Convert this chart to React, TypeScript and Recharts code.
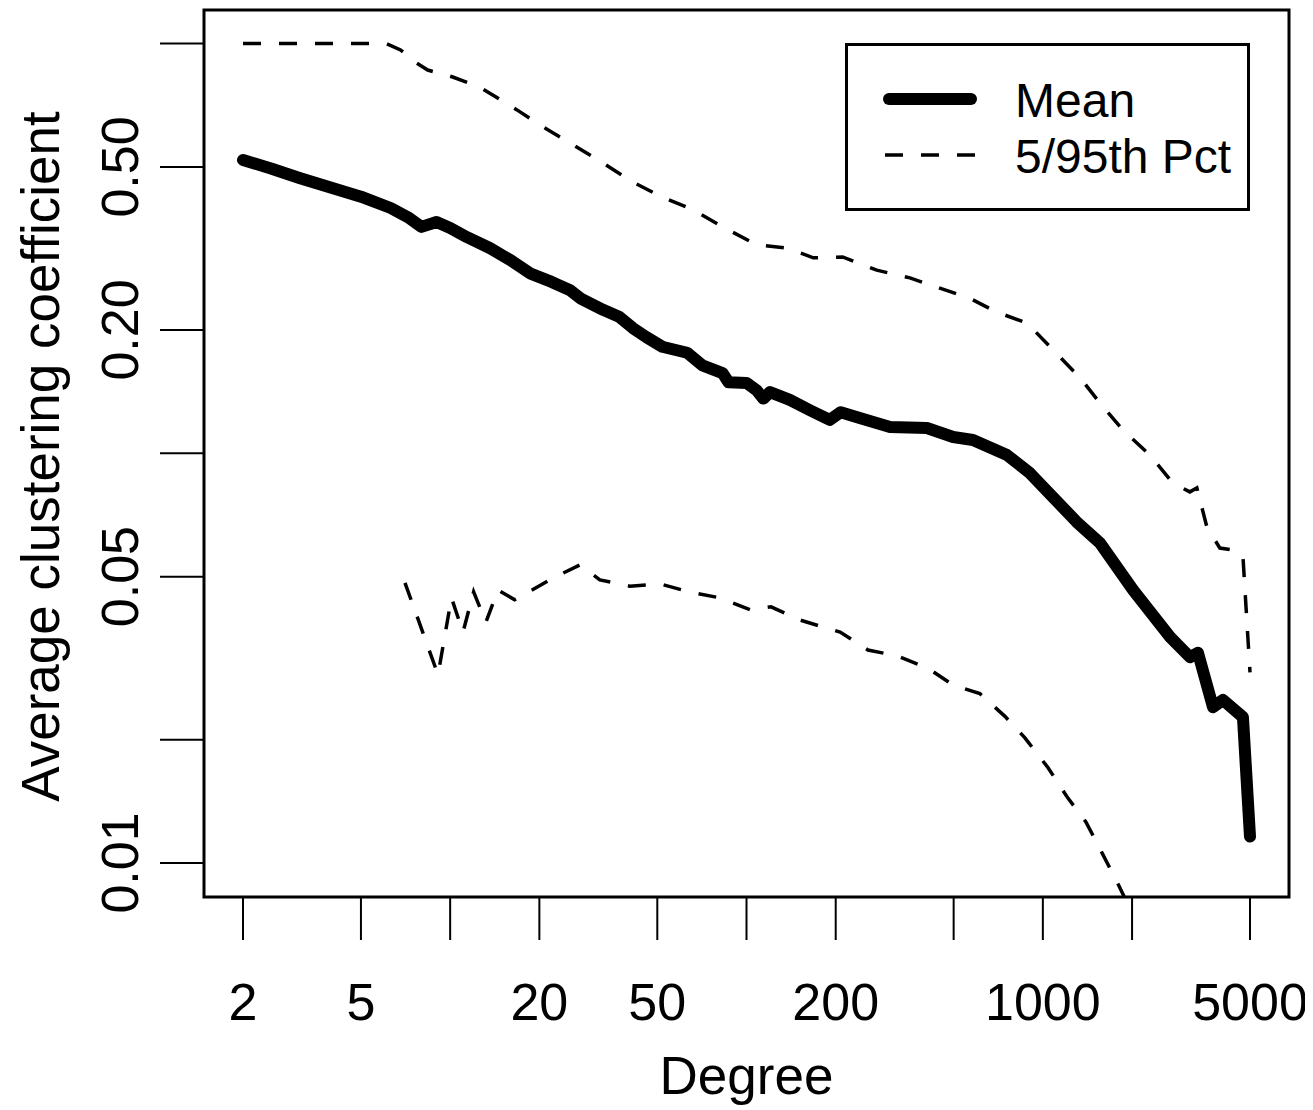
import { LineChart, Line, XAxis, YAxis, ReferenceArea, Legend } from "recharts";

// degree (x) and average clustering coefficient (y)
const MEAN_DEGREE = [2, 2.5, 3.1, 4, 5, 6.3, 7.2, 8, 9, 10, 11.4, 13.6, 16, 18.6, 22, 25.4, 27.5, 32.8, 37.3, 41.4, 46, 52, 63, 71, 83, 87, 100, 108, 114, 120, 140, 165, 191, 208, 241, 305, 406, 498, 581, 757, 904, 1081, 1300, 1559, 2016, 2687, 3136, 3337, 3751, 4055, 4733, 5000];
const MEAN_VALUE = [0.52, 0.495, 0.47, 0.444, 0.423, 0.397, 0.377, 0.357, 0.367, 0.355, 0.337, 0.317, 0.296, 0.275, 0.262, 0.25, 0.239, 0.224, 0.215, 0.202, 0.192, 0.182, 0.176, 0.164, 0.157, 0.149, 0.1485, 0.1427, 0.136, 0.141, 0.135, 0.127, 0.1206, 0.126, 0.122, 0.116, 0.1153, 0.1096, 0.1078, 0.099, 0.0895, 0.0782, 0.068, 0.0604, 0.0464, 0.0356, 0.0318, 0.0326, 0.024, 0.025, 0.0227, 0.0116];

const UPPER_DEGREE = [2, 3, 4, 5, 6.1, 6.8, 7.7, 8.4, 10.2, 12.6, 16.8, 20.6, 26, 32.8, 41.4, 52, 66, 83, 108, 137, 168, 211, 275, 356, 449, 567, 700, 884, 1081, 1334, 1594, 1862, 2297, 2747, 3134, 3309, 3577, 3957, 4343, 4732, 5000];
const UPPER_VALUE = [1, 1, 1, 1, 1, 0.965, 0.897, 0.862, 0.829, 0.783, 0.689, 0.626, 0.566, 0.511, 0.459, 0.422, 0.393, 0.357, 0.323, 0.317, 0.3, 0.3015, 0.28, 0.268, 0.253, 0.239, 0.221, 0.208, 0.179, 0.153, 0.13, 0.114, 0.099, 0.0846, 0.0805, 0.0823, 0.0661, 0.0587, 0.0581, 0.0562, 0.0292];

const LOWER_DEGREE = [7.04, 9.1, 10.1, 11.05, 12, 13.2, 14.5, 16.5, 18.9, 22.6, 27.4, 32, 40.4, 51, 64, 81, 103, 121, 151, 207, 257, 324, 409, 497, 613, 745, 870, 1040, 1215, 1397, 1582, 1792, 2045];
const LOWER_VALUE = [0.0483, 0.0288, 0.0444, 0.0366, 0.0459, 0.0387, 0.0464, 0.0439, 0.0464, 0.0499, 0.0534, 0.0491, 0.0474, 0.048, 0.0459, 0.0444, 0.0415, 0.0422, 0.0392, 0.0366, 0.0331, 0.032, 0.0299, 0.0272, 0.0259, 0.0228, 0.0202, 0.0171, 0.0144, 0.0126, 0.0106, 0.0089, 0.0073];

const X_TICKS = [2, 5, 10, 20, 50, 100, 200, 500, 1000, 2000, 5000];
const X_LABELED = [2, 5, 20, 50, 200, 1000, 5000];
const Y_TICKS = [0.01, 0.02, 0.05, 0.1, 0.2, 0.5, 1];
const Y_LABELS: Record<number, string> = { 0.01: "0.01", 0.05: "0.05", 0.2: "0.20", 0.5: "0.50" };

const X_DOMAIN = [1.477, 6770];
const Y_DOMAIN = [0.00826, 1.208];

const FONT = "'Liberation Sans', Arial, Helvetica, sans-serif";
const DASH = "18 18";

const zip = (xs: number[], ys: number[]) => xs.map((d, i) => ({ d, v: ys[i] }));
const meanData = zip(MEAN_DEGREE, MEAN_VALUE);
const upperData = zip(UPPER_DEGREE, UPPER_VALUE);
const lowerData = zip(LOWER_DEGREE, LOWER_VALUE);

const LEGEND_STYLE: Record<string, { width: number; dash?: string; x1: number; x2: number }> = {
  Mean: { width: 12, x1: 44, x2: 126 },
  "5/95th Pct": { width: 3.5, dash: DASH, x1: 40, x2: 130 },
};

function XTick({ x, y, payload }: any) {
  if (!X_LABELED.includes(payload.value)) return null;
  return (
    <text x={x} y={y + 80} textAnchor="middle" fontSize={52} fontFamily={FONT} fill="#000">
      {payload.value}
    </text>
  );
}

function YTick({ x, y, payload }: any) {
  const label = Y_LABELS[payload.value];
  if (!label) return null;
  return (
    <text
      transform={`translate(${x - 22},${y}) rotate(-90)`}
      textAnchor="middle"
      fontSize={52}
      fontFamily={FONT}
      fill="#000"
    >
      {label}
    </text>
  );
}

function LegendBox({ payload }: any) {
  const items = (payload ?? []).filter((p: any) => LEGEND_STYLE[p.value]);
  return (
    <svg width={405} height={168} style={{ display: "block" }}>
      <rect x={1.5} y={1.5} width={402} height={165} fill="#fff" stroke="#000" strokeWidth={3} />
      {items.map((p: any, i: number) => {
        const s = LEGEND_STYLE[p.value];
        const cy = 56 + i * 56;
        return (
          <g key={p.value}>
            <line
              x1={s.x1}
              x2={s.x2}
              y1={cy}
              y2={cy}
              stroke="#000"
              strokeWidth={s.width}
              strokeDasharray={s.dash}
              strokeLinecap={s.dash ? "butt" : "round"}
            />
            <text x={170} y={cy + 18} fontSize={48} fontFamily={FONT} fill="#000">
              {p.value}
            </text>
          </g>
        );
      })}
    </svg>
  );
}

export default function App() {
  return (
    <div style={{ width: 1305, height: 1100, background: "#fff" }}>
      <LineChart width={1305} height={1100} margin={{ top: 2, right: 24, left: 0, bottom: 0 }}>
        <XAxis
          dataKey="d"
          type="number"
          scale="log"
          domain={X_DOMAIN}
          allowDataOverflow
          ticks={X_TICKS}
          interval={0}
          height={211}
          axisLine={false}
          tickLine={{ stroke: "#000", strokeWidth: 2 }}
          tickSize={43}
          tickMargin={0}
          tick={<XTick />}
          label={({ viewBox }: any) => (
            <text
              x={viewBox.x + viewBox.width / 2}
              y={viewBox.y + 197}
              textAnchor="middle"
              fontSize={53}
              fontFamily={FONT}
              fill="#000"
            >
              Degree
            </text>
          )}
        />
        <YAxis
          dataKey="v"
          type="number"
          scale="log"
          domain={Y_DOMAIN}
          allowDataOverflow
          ticks={Y_TICKS}
          interval={0}
          width={196}
          axisLine={false}
          tickLine={{ stroke: "#000", strokeWidth: 2 }}
          tickSize={44}
          tickMargin={0}
          tick={<YTick />}
          label={({ viewBox }: any) => (
            <text
              transform={`translate(${viewBox.x + 51},${viewBox.y + viewBox.height / 2 + 3}) rotate(-90)`}
              textAnchor="middle"
              fontSize={53}
              fontFamily={FONT}
              fill="#000"
            >
              Average clustering coefficient
            </text>
          )}
        />
        <Line
          data={upperData}
          dataKey="v"
          name="5/95th Pct"
          stroke="#000"
          strokeWidth={3.5}
          strokeDasharray={DASH}
          dot={false}
          activeDot={false}
          isAnimationActive={false}
        />
        <Line
          data={lowerData}
          dataKey="v"
          name="5th Pct"
          legendType="none"
          stroke="#000"
          strokeWidth={3.5}
          strokeDasharray={DASH}
          dot={false}
          activeDot={false}
          isAnimationActive={false}
        />
        <Line
          data={meanData}
          dataKey="v"
          name="Mean"
          stroke="#000"
          strokeWidth={12}
          strokeLinecap="round"
          strokeLinejoin="round"
          dot={false}
          activeDot={false}
          isAnimationActive={false}
        />
        <ReferenceArea
          x1={X_DOMAIN[0]}
          x2={X_DOMAIN[1]}
          y1={Y_DOMAIN[0]}
          y2={Y_DOMAIN[1]}
          ifOverflow="visible"
          fill="none"
          fillOpacity={0}
          stroke="#000"
          strokeWidth={3}
        />
        <Legend
          layout="vertical"
          align="center"
          verticalAlign="middle"
          content={<LegendBox />}
          itemSorter={(p: any) => (p.value === "Mean" ? 0 : 1)}
          wrapperStyle={{ position: "absolute", left: 837, top: 35, width: 405, height: 168 }}
        />
      </LineChart>
    </div>
  );
}
